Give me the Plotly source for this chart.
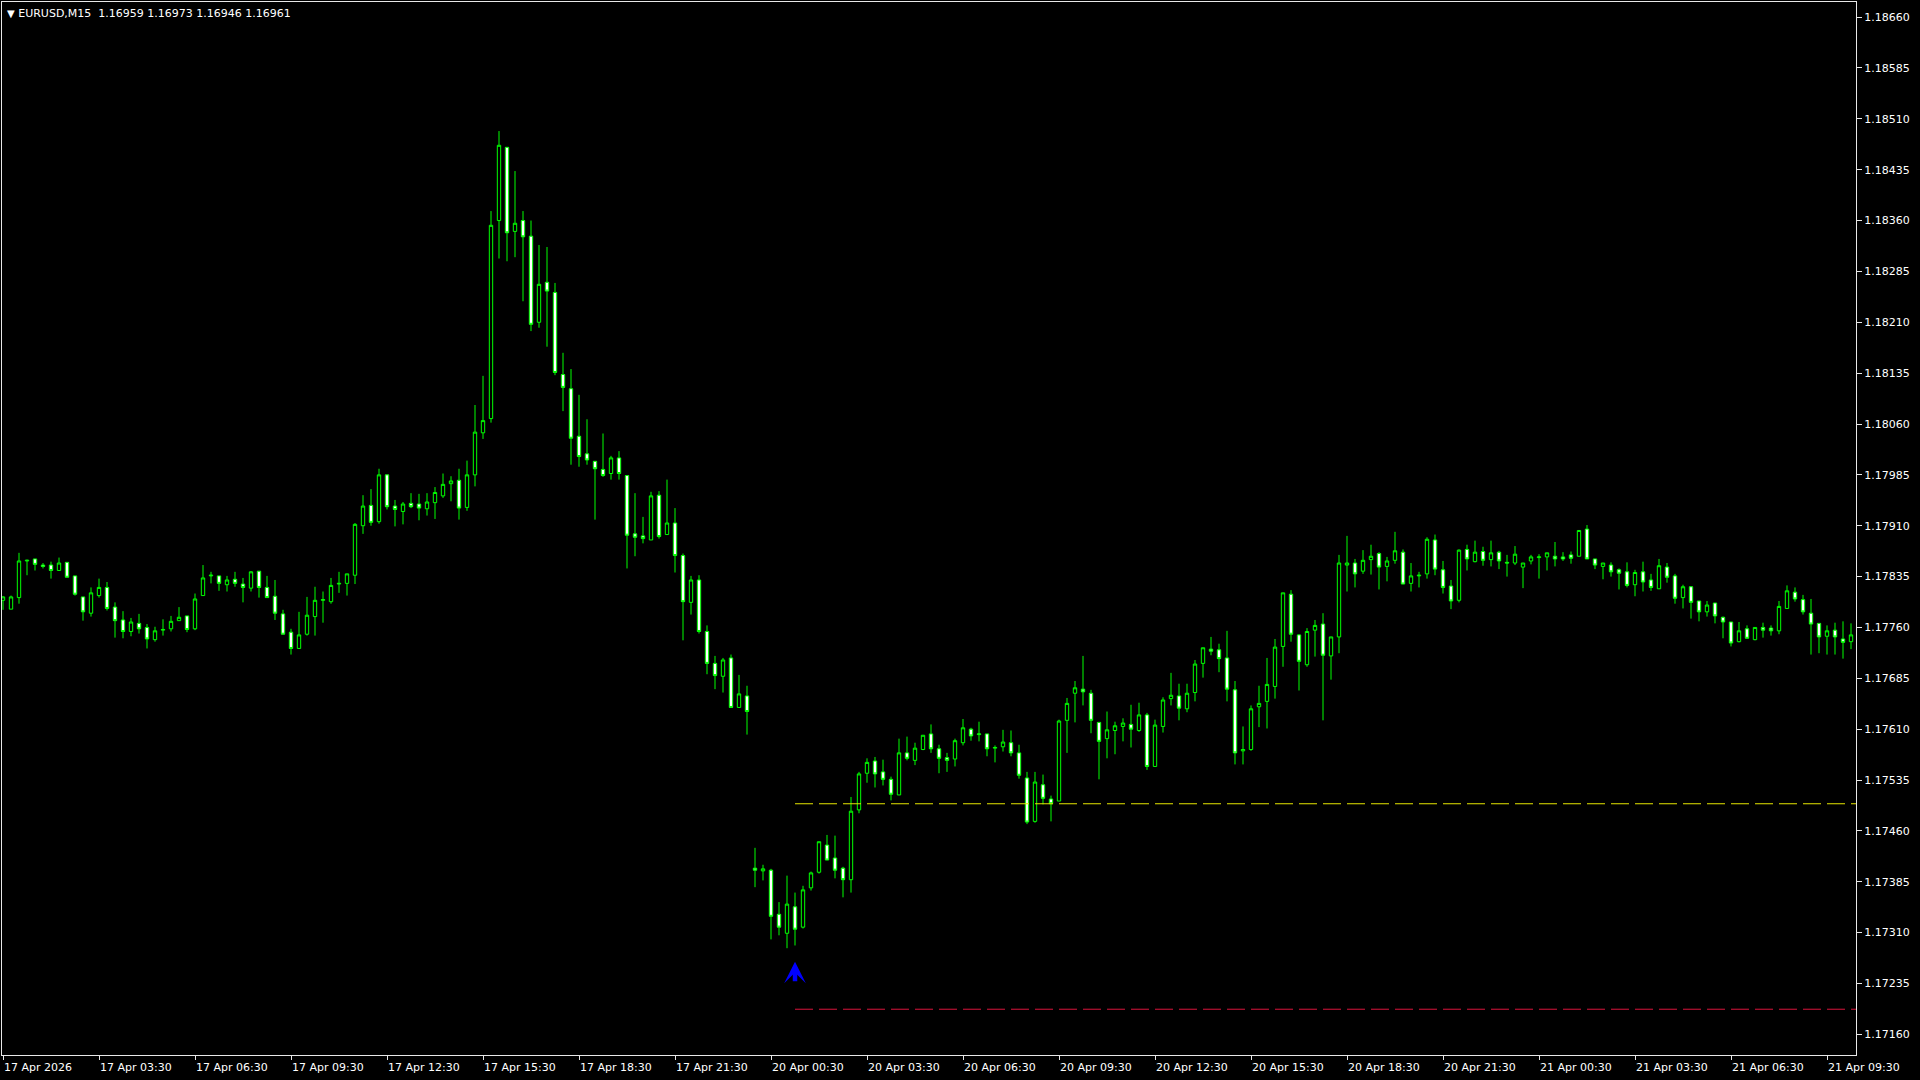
import plotly.graph_objects as go

symbol_header = "EURUSD,M15\u00a0\u00a01.16959 1.16973 1.16946 1.16961"

# OHLC per 15-minute bar (bar 0 = 17 Apr 00:30)
opens = [1.17800,1.17787,1.17804,1.17858,1.17861,1.17852,1.17852,1.17844,1.17856,1.17836,
1.17805,1.17781,1.17807,1.17819,1.17790,1.17771,1.17754,1.17766,1.17760,1.17742,
1.17756,1.17758,1.17770,1.17777,1.17758,1.17807,1.17836,1.17836,1.17823,1.17831,
1.17824,1.17818,1.17843,1.17819,1.17806,1.17780,1.17753,1.17729,1.17750,1.17776,
1.17800,1.17798,1.17824,1.17825,1.17837,1.17910,1.17940,1.17916,1.17985,1.17939,
1.17931,1.17943,1.17942,1.17935,1.17944,1.17954,1.17972,1.17977,1.17937,1.17985,
1.18047,1.18068,1.18360,1.18468,1.18344,1.18360,1.18337,1.18210,1.18269,1.18254,
1.18133,1.18112,1.18042,1.18016,1.18005,1.17993,1.17987,1.18010,1.17984,1.17898,
1.17895,1.17889,1.17955,1.17897,1.17914,1.17866,1.17797,1.17830,1.17754,1.17707,
1.17688,1.17715,1.17642,1.17659,1.17405,1.17401,1.17402,1.17337,1.17309,1.17348,
1.17318,1.17376,1.17399,1.17439,1.17420,1.17405,1.17388,1.17491,1.17545,1.17563,
1.17547,1.17536,1.17513,1.17575,1.17564,1.17580,1.17603,1.17581,1.17568,1.17566,
1.17590,1.17610,1.17602,1.17603,1.17582,1.17584,1.17590,1.17575,1.17538,1.17474,
1.17528,1.17507,1.17504,1.17623,1.17663,1.17669,1.17663,1.17620,1.17596,1.17608,
1.17614,1.17617,1.17608,1.17631,1.17555,1.17614,1.17655,1.17659,1.17640,1.17664,
1.17707,1.17728,1.17727,1.17715,1.17668,1.17578,1.17580,1.17643,1.17651,1.17673,
1.17732,1.17809,1.17749,1.17705,1.17756,1.17765,1.17718,1.17746,1.17852,1.17855,
1.17843,1.17860,1.17869,1.17850,1.17859,1.17871,1.17825,1.17836,1.17839,1.17889,
1.17845,1.17821,1.17800,1.17875,1.17857,1.17872,1.17860,1.17871,1.17856,1.17855,
1.17849,1.17858,1.17863,1.17864,1.17865,1.17864,1.17867,1.17865,1.17905,1.17861,
1.17850,1.17852,1.17845,1.17842,1.17823,1.17842,1.17830,1.17817,1.17849,1.17836,
1.17804,1.17820,1.17799,1.17783,1.17796,1.17775,1.17768,1.17739,1.17758,1.17742,
1.17760,1.17759,1.17755,1.17788,1.17812,1.17801,1.17781,1.17766,1.17747,1.17756,
1.17743,1.17739]

highs = [1.17806,1.17807,1.17870,1.17860,1.17861,1.17855,1.17857,1.17863,1.17856,1.17836,
1.17805,1.17819,1.17832,1.17827,1.17797,1.17784,1.17774,1.17780,1.17765,1.17761,
1.17772,1.17777,1.17790,1.17777,1.17810,1.17852,1.17842,1.17836,1.17836,1.17842,
1.17833,1.17843,1.17843,1.17836,1.17830,1.17786,1.17758,1.17783,1.17805,1.17820,
1.17813,1.17833,1.17842,1.17839,1.17914,1.17955,1.17964,1.17994,1.17985,1.17948,
1.17945,1.17958,1.17957,1.17958,1.17967,1.17987,1.17983,1.17994,1.18006,1.18088,
1.18131,1.18374,1.18492,1.18468,1.18433,1.18374,1.18360,1.18324,1.18321,1.18268,
1.18165,1.18141,1.18103,1.18067,1.18005,1.18046,1.18013,1.18020,1.17984,1.17958,
1.17923,1.17960,1.17961,1.17978,1.17936,1.17869,1.17836,1.17837,1.17763,1.17718,
1.17715,1.17720,1.17690,1.17674,1.17435,1.17410,1.17404,1.17355,1.17394,1.17369,
1.17379,1.17400,1.17444,1.17454,1.17453,1.17407,1.17510,1.17547,1.17567,1.17569,
1.17565,1.17540,1.17596,1.17599,1.17590,1.17601,1.17617,1.17587,1.17575,1.17596,
1.17625,1.17612,1.17621,1.17603,1.17586,1.17609,1.17608,1.17587,1.17547,1.17547,
1.17543,1.17512,1.17624,1.17656,1.17681,1.17718,1.17668,1.17620,1.17636,1.17621,
1.17626,1.17646,1.17649,1.17634,1.17624,1.17657,1.17693,1.17677,1.17677,1.17712,
1.17730,1.17746,1.17736,1.17755,1.17681,1.17614,1.17645,1.17674,1.17715,1.17743,
1.17811,1.17815,1.17750,1.17759,1.17771,1.17781,1.17746,1.17867,1.17895,1.17861,
1.17874,1.17882,1.17871,1.17864,1.17901,1.17875,1.17855,1.17842,1.17893,1.17897,
1.17858,1.17830,1.17875,1.17882,1.17888,1.17879,1.17888,1.17873,1.17867,1.17880,
1.17855,1.17867,1.17868,1.17870,1.17886,1.17871,1.17872,1.17903,1.17911,1.17861,
1.17855,1.17856,1.17847,1.17856,1.17845,1.17857,1.17839,1.17861,1.17855,1.17839,
1.17823,1.17821,1.17799,1.17799,1.17796,1.17776,1.17768,1.17768,1.17763,1.17760,
1.17767,1.17763,1.17799,1.17822,1.17819,1.17808,1.17802,1.17766,1.17763,1.17767,
1.17769,1.17766]

lows = [1.17786,1.17787,1.17795,1.17837,1.17844,1.17847,1.17832,1.17844,1.17834,1.17807,
1.17770,1.17776,1.17804,1.17785,1.17745,1.17744,1.17747,1.17751,1.17729,1.17739,
1.17748,1.17754,1.17770,1.17753,1.17756,1.17807,1.17825,1.17814,1.17813,1.17820,
1.17797,1.17813,1.17804,1.17804,1.17771,1.17750,1.17720,1.17729,1.17748,1.17748,
1.17767,1.17795,1.17811,1.17807,1.17824,1.17898,1.17910,1.17913,1.17934,1.17909,
1.17912,1.17936,1.17918,1.17925,1.17920,1.17951,1.17946,1.17919,1.17932,1.17968,
1.18038,1.18062,1.18304,1.18300,1.18306,1.18241,1.18197,1.18202,1.18174,1.18132,
1.18079,1.18000,1.17997,1.18000,1.17919,1.17982,1.17978,1.17978,1.17847,1.17865,
1.17884,1.17889,1.17891,1.17897,1.17841,1.17741,1.17779,1.17751,1.17691,1.17669,
1.17664,1.17642,1.17642,1.17602,1.17377,1.17387,1.17300,1.17306,1.17287,1.17291,
1.17316,1.17372,1.17397,1.17417,1.17390,1.17362,1.17369,1.17486,1.17531,1.17524,
1.17527,1.17505,1.17513,1.17564,1.17557,1.17579,1.17575,1.17545,1.17547,1.17555,
1.17586,1.17593,1.17592,1.17570,1.17561,1.17577,1.17570,1.17537,1.17470,1.17472,
1.17499,1.17474,1.17504,1.17575,1.17620,1.17645,1.17604,1.17536,1.17567,1.17573,
1.17592,1.17583,1.17606,1.17550,1.17555,1.17605,1.17645,1.17623,1.17635,1.17651,
1.17686,1.17719,1.17694,1.17651,1.17558,1.17558,1.17578,1.17613,1.17611,1.17655,
1.17702,1.17739,1.17667,1.17702,1.17717,1.17623,1.17683,1.17722,1.17813,1.17819,
1.17839,1.17838,1.17816,1.17828,1.17854,1.17824,1.17813,1.17819,1.17832,1.17837,
1.17810,1.17787,1.17797,1.17844,1.17856,1.17851,1.17850,1.17846,1.17835,1.17852,
1.17818,1.17853,1.17832,1.17844,1.17850,1.17858,1.17854,1.17865,1.17861,1.17846,
1.17831,1.17835,1.17816,1.17819,1.17806,1.17813,1.17814,1.17817,1.17826,1.17795,
1.17788,1.17773,1.17769,1.17776,1.17766,1.17744,1.17732,1.17738,1.17743,1.17741,
1.17745,1.17748,1.17750,1.17788,1.17798,1.17779,1.17720,1.17722,1.17720,1.17720,
1.17714,1.17728]

closes = [1.17805,1.17805,1.17858,1.17859,1.17853,1.17850,1.17844,1.17855,1.17834,1.17809,
1.17783,1.17811,1.17819,1.17788,1.17770,1.17754,1.17768,1.17758,1.17743,1.17755,
1.17757,1.17769,1.17775,1.17757,1.17802,1.17833,1.17837,1.17825,1.17830,1.17825,
1.17819,1.17842,1.17819,1.17804,1.17781,1.17750,1.17729,1.17749,1.17778,1.17800,
1.17801,1.17822,1.17825,1.17839,1.17912,1.17939,1.17915,1.17985,1.17938,1.17934,
1.17942,1.17938,1.17936,1.17945,1.17959,1.17971,1.17976,1.17936,1.17985,1.18048,
1.18065,1.18353,1.18471,1.18342,1.18356,1.18336,1.18207,1.18266,1.18256,1.18136,
1.18114,1.18039,1.18012,1.18007,1.17994,1.17984,1.18010,1.17987,1.17896,1.17893,
1.17891,1.17954,1.17894,1.17914,1.17866,1.17798,1.17830,1.17754,1.17707,1.17689,
1.17712,1.17642,1.17662,1.17636,1.17402,1.17404,1.17334,1.17318,1.17352,1.17315,
1.17373,1.17398,1.17444,1.17417,1.17402,1.17388,1.17489,1.17544,1.17561,1.17544,
1.17536,1.17514,1.17575,1.17567,1.17582,1.17601,1.17581,1.17567,1.17564,1.17593,
1.17612,1.17600,1.17603,1.17581,1.17583,1.17591,1.17575,1.17542,1.17473,1.17532,
1.17508,1.17500,1.17622,1.17648,1.17671,1.17665,1.17623,1.17592,1.17609,1.17615,
1.17619,1.17610,1.17631,1.17555,1.17616,1.17653,1.17660,1.17641,1.17663,1.17706,
1.17730,1.17725,1.17714,1.17669,1.17575,1.17580,1.17640,1.17648,1.17676,1.17731,
1.17811,1.17750,1.17710,1.17754,1.17763,1.17719,1.17746,1.17855,1.17855,1.17839,
1.17859,1.17865,1.17849,1.17858,1.17873,1.17824,1.17836,1.17837,1.17890,1.17846,
1.17819,1.17799,1.17874,1.17861,1.17871,1.17859,1.17870,1.17858,1.17855,1.17868,
1.17855,1.17864,1.17864,1.17870,1.17861,1.17861,1.17862,1.17903,1.17861,1.17852,
1.17855,1.17842,1.17840,1.17822,1.17841,1.17827,1.17819,1.17851,1.17834,1.17803,
1.17820,1.17797,1.17783,1.17793,1.17777,1.17768,1.17737,1.17755,1.17744,1.17760,
1.17756,1.17755,1.17791,1.17814,1.17802,1.17783,1.17765,1.17746,1.17755,1.17746,
1.17738,1.17749]

bars = list(range(len(opens)))

time_tick_bars = [0, 12, 24, 36, 48, 60, 72, 84, 96, 108, 120, 132, 144, 156, 168, 180, 192, 204, 216, 228]
time_tick_labels = ["17 Apr 2026", "17 Apr 03:30", "17 Apr 06:30", "17 Apr 09:30", "17 Apr 12:30",
                    "17 Apr 15:30", "17 Apr 18:30", "17 Apr 21:30", "20 Apr 00:30", "20 Apr 03:30",
                    "20 Apr 06:30", "20 Apr 09:30", "20 Apr 12:30", "20 Apr 15:30", "20 Apr 18:30",
                    "20 Apr 21:30", "21 Apr 00:30", "21 Apr 03:30", "21 Apr 06:30", "21 Apr 09:30"]

price_tick_labels = ["1.17160", "1.17235", "1.17310", "1.17385", "1.17460", "1.17535", "1.17610",
                     "1.17685", "1.17760", "1.17835", "1.17910", "1.17985", "1.18060", "1.18135",
                     "1.18210", "1.18285", "1.18360", "1.18435", "1.18510", "1.18585", "1.18660"]
price_tick_vals = [float(s) for s in price_tick_labels]

# horizontal levels (start bar, price)
level_start_bar = 99
level_yellow = 1.17500
level_red = 1.17197

# buy arrow (bar, price at arrow tip)
arrow_bar = [99]
arrow_price = [1.17267]

x_range = [-0.125, 231.625]
y_range = [1.171295, 1.186823]

GREEN = "#00ff00"
FONT = "DejaVu Sans, Verdana, sans-serif"

fig = go.Figure()
fig.add_trace(go.Candlestick(
    x=bars, open=opens, high=highs, low=lows, close=closes,
    increasing=dict(line=dict(color=GREEN, width=1), fillcolor="#000000"),
    decreasing=dict(line=dict(color=GREEN, width=1), fillcolor="#ffffff"),
    whiskerwidth=0, hoverinfo="skip", showlegend=False,
))

fig.add_shape(type="line", xref="x", yref="y", x0=level_start_bar, x1=x_range[1],
              y0=level_yellow, y1=level_yellow,
              line=dict(color="#e6e600", width=1, dash="18px,6px"))
fig.add_shape(type="line", xref="x", yref="y", x0=level_start_bar, x1=x_range[1],
              y0=level_red, y1=level_red,
              line=dict(color="#dc143c", width=1, dash="18px,6px"))

for b, p in zip(arrow_bar, arrow_price):
    fig.add_annotation(x=b, y=p, xref="x", yref="y", text="", showarrow=True,
                       ax=0, ay=21, axref="pixel", ayref="pixel",
                       arrowhead=3, arrowsize=0.8, arrowwidth=4.5, arrowcolor="#0000ff",
                       standoff=0)

fig.add_annotation(xref="paper", yref="paper", x=0, y=1, xanchor="left", yanchor="top",
                   xshift=3, yshift=-3, showarrow=False,
                   text="<span style='font-size:10px'>\u25bc</span>\u00a0" + symbol_header,
                   font=dict(family=FONT, size=11, color="#ffffff"))

fig.update_layout(
    width=1920, height=1080,
    margin=dict(l=2, r=64, t=2, b=25, pad=0),
    paper_bgcolor="#000000", plot_bgcolor="#000000",
    showlegend=False, boxgap=0.4,
    font=dict(family=FONT, size=11, color="#ffffff"),
    xaxis=dict(range=x_range, rangeslider=dict(visible=False), showgrid=False, zeroline=False,
               showline=True, linecolor="#e8e8e8", linewidth=1, mirror=True,
               ticks="outside", ticklen=4, tickcolor="#e8e8e8",
               tickvals=time_tick_bars, ticktext=time_tick_labels,
               ticklabelposition="outside right", ticklabelstandoff=2,
               tickfont=dict(family=FONT, size=11, color="#ffffff"), fixedrange=True),
    yaxis=dict(range=y_range, side="right", showgrid=False, zeroline=False,
               showline=True, linecolor="#e8e8e8", linewidth=1, mirror=True,
               ticks="outside", ticklen=5, tickcolor="#e8e8e8",
               tickvals=price_tick_vals, ticktext=price_tick_labels,
               tickfont=dict(family=FONT, size=11, color="#ffffff"), fixedrange=True),
)

fig.write_html("out.html", config={"displayModeBar": False},
               post_script="document.body.style.margin='0';document.body.style.background='#000';")
